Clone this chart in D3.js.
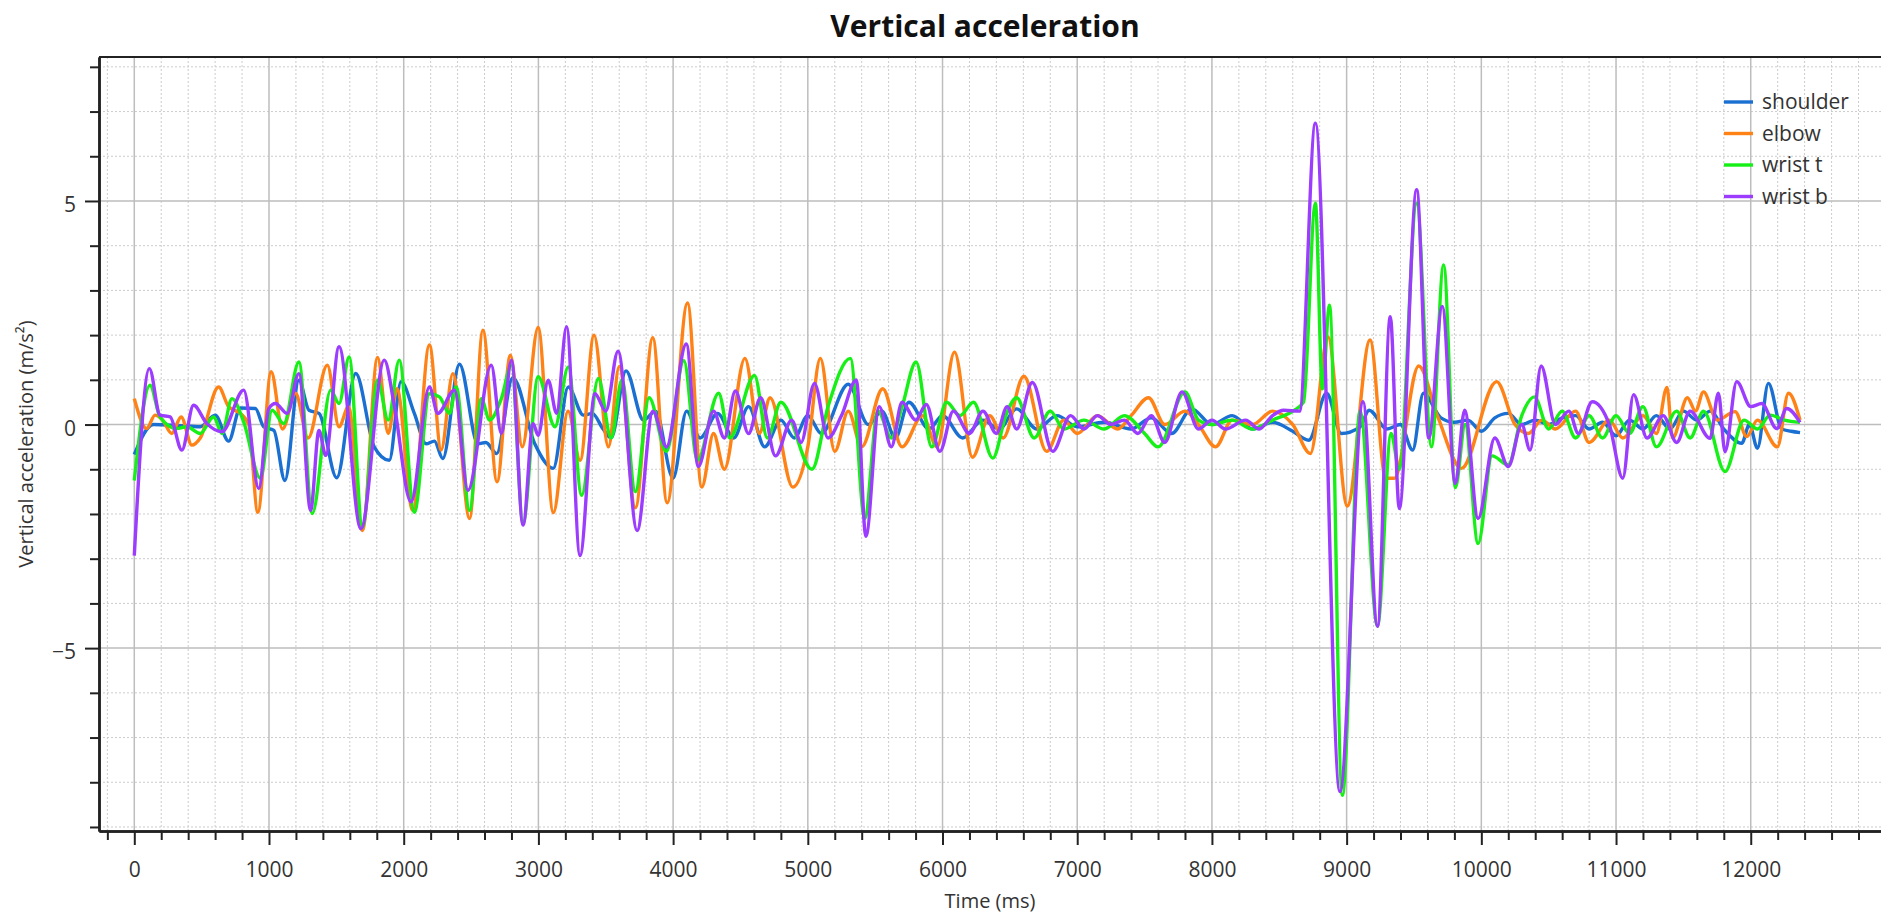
<!DOCTYPE html>
<html>
<head>
<meta charset="utf-8">
<script src="https://cdn.jsdelivr.net/npm/d3@7"></script>
<style>
  html, body { margin: 0; padding: 0; background: #fff; }
  svg { display: block; }
  text { font-family: "Open Sans", "Noto Sans", sans-serif; }
</style>
</head>
<body>
<svg id="chart" width="1881" height="915"></svg>
<script>
const chartTitle = "Vertical acceleration";
const xLabel = "Time (ms)";
const yLabel = "Vertical acceleration (m/s\u00B2)";
const seriesNames = ["shoulder", "elbow", "wrist t", "wrist b"];
const seriesColors = ["#1a6fd2", "#ff8216", "#16f016", "#9b3cff"];
const xMajorTicks = [0,1000,2000,3000,4000,5000,6000,7000,8000,9000,10000,11000,12000];
const yMajorTicks = [-5, 0, 5];

const shoulder = [[0,-0.67],[142,0.0],[315,-0.02],[489,-0.05],[601,0.21],[700,-0.37],[787,0.37],[899,0.36],[961,-0.05],[1036,-0.13],[1118,-1.25],[1222,0.99],[1297,0.32],[1371,0.25],[1503,-1.19],[1644,1.14],[1781,-0.5],[1893,-0.8],[1980,0.96],[2079,0.25],[2166,-0.43],[2228,-0.37],[2290,-0.76],[2414,1.35],[2551,-0.43],[2610,-0.4],[2690,-0.65],[2810,1.05],[2973,-0.43],[3110,-0.98],[3222,0.84],[3334,0.21],[3400,0.25],[3480,-0.1],[3540,-0.3],[3650,1.2],[3780,0.1],[3870,0.3],[4000,-1.2],[4100,0.3],[4200,-0.3],[4330,0.25],[4450,-0.3],[4560,0.4],[4680,-0.5],[4800,0.1],[4900,-0.3],[5000,0.2],[5100,-0.2],[5300,0.9],[5450,0.0],[5550,0.3],[5650,-0.3],[5750,0.5],[5900,-0.1],[6000,0.2],[6150,-0.3],[6300,0.1],[6420,-0.1],[6550,0.35],[6700,-0.1],[6850,0.2],[7000,-0.05],[7200,0.05],[7400,-0.1],[7550,0.15],[7700,-0.2],[7850,0.35],[8000,0.0],[8150,0.2],[8300,-0.1],[8450,0.05],[8600,-0.15],[8719,-0.35],[8851,0.7],[8960,-0.2],[9100,-0.05],[9167,0.32],[9300,-0.1],[9400,0.0],[9490,-0.57],[9570,0.7],[9700,0.15],[9800,0.05],[9900,0.1],[10000,-0.15],[10100,0.15],[10200,0.25],[10300,0.0],[10400,0.1],[10500,0.0],[10600,0.15],[10700,0.2],[10800,-0.1],[10900,0.05],[11000,-0.25],[11100,0.1],[11200,-0.1],[11300,0.2],[11400,-0.1],[11500,0.3],[11600,0.1],[11700,0.3],[11800,-0.1],[11933,-0.42],[11990,0.0],[12050,-0.53],[12131,0.92],[12230,-0.1],[12300,-0.15],[12366,-0.18]];

const elbow = [[0,0.58],[92,-0.09],[154,0.21],[210,0.1],[278,-0.2],[348,0.17],[427,-0.46],[490,-0.3],[626,0.84],[700,0.4],[787,0.25],[850,0.0],[917,-1.96],[1016,1.18],[1100,-0.1],[1197,0.7],[1290,-0.3],[1433,1.33],[1520,-0.05],[1590,0.4],[1694,-2.37],[1806,1.5],[1885,-0.2],[1950,0.8],[2067,-1.92],[2191,1.78],[2278,-0.57],[2365,1.14],[2489,-2.1],[2588,2.11],[2693,-1.28],[2792,1.55],[2880,-0.5],[2998,2.17],[3111,-1.97],[3220,0.3],[3310,-0.8],[3413,2.0],[3520,-0.5],[3600,1.3],[3720,-1.86],[3849,1.94],[3956,-1.75],[4107,2.72],[4213,-1.4],[4300,-0.2],[4380,-1.0],[4533,1.48],[4640,-0.2],[4720,0.6],[4889,-1.4],[5000,-0.5],[5093,1.48],[5200,-0.6],[5300,0.3],[5400,-0.5],[5556,0.8],[5700,-0.5],[5850,0.2],[5960,-0.5],[6089,1.62],[6222,-0.73],[6350,0.2],[6450,-0.3],[6604,1.08],[6773,-0.6],[6900,0.1],[7000,-0.2],[7150,0.2],[7300,-0.1],[7400,0.2],[7529,0.6],[7650,0.0],[7800,0.3],[7900,0.0],[8027,-0.5],[8150,0.1],[8300,0.0],[8450,0.3],[8600,0.0],[8731,-0.65],[8861,1.96],[9005,-1.82],[9174,1.89],[9290,-1.2],[9355,-1.2],[9535,1.31],[9677,0.17],[9852,-0.98],[10113,0.96],[10250,0.0],[10350,-0.2],[10450,0.1],[10550,-0.1],[10700,0.3],[10800,-0.4],[10950,0.1],[11050,-0.3],[11200,0.2],[11300,-0.2],[11378,0.83],[11420,-0.3],[11530,0.6],[11590,0.3],[11649,0.73],[11750,0.1],[11884,0.29],[11970,-0.27],[12050,0.1],[12198,-0.5],[12280,0.7],[12366,0.1]];

const wristT = [[0,-1.25],[117,0.88],[191,0.17],[315,-0.09],[390,-0.05],[489,-0.2],[589,0.17],[651,-0.2],[725,0.58],[812,0.06],[936,-1.2],[1023,0.32],[1110,0.02],[1222,1.4],[1321,-1.99],[1458,0.77],[1520,0.47],[1595,1.51],[1694,-2.29],[1806,0.99],[1885,0.1],[1967,1.44],[2079,-1.96],[2191,0.69],[2265,0.62],[2340,0.25],[2390,0.84],[2489,-1.92],[2576,0.58],[2638,0.1],[2725,0.58],[2800,1.33],[2886,-2.2],[2998,1.07],[3123,-0.05],[3222,1.29],[3321,-1.58],[3445,1.03],[3540,-0.3],[3620,1.0],[3720,-1.5],[3822,0.6],[3950,-0.6],[4080,1.43],[4180,-0.8],[4338,0.7],[4420,-0.3],[4604,1.1],[4700,-0.3],[4800,0.5],[5031,-1.0],[5150,0.4],[5316,1.48],[5422,-2.1],[5520,0.3],[5620,-0.3],[5700,0.4],[5804,1.4],[5920,-0.5],[6030,0.5],[6130,0.2],[6230,0.5],[6373,-0.75],[6470,0.2],[6550,0.6],[6680,-0.3],[6800,0.3],[6900,-0.1],[7050,0.1],[7200,-0.1],[7350,0.2],[7500,-0.2],[7600,-0.5],[7800,0.73],[7900,0.1],[8000,0.0],[8150,0.1],[8300,-0.1],[8450,0.1],[8600,0.3],[8680,0.5],[8768,4.95],[8820,0.8],[8873,2.67],[8968,-8.29],[9100,0.3],[9229,-4.51],[9330,-0.2],[9391,-1.0],[9520,4.95],[9630,-0.5],[9720,3.57],[9807,-1.41],[9880,0.0],[9976,-2.66],[10080,-0.7],[10200,-0.9],[10300,0.2],[10394,0.62],[10500,-0.1],[10600,0.3],[10700,-0.3],[10800,0.2],[10900,-0.3],[11000,0.2],[11100,-0.2],[11200,0.4],[11300,-0.5],[11450,0.3],[11550,-0.3],[11650,0.3],[11809,-1.05],[11950,0.1],[12050,-0.1],[12144,0.21],[12250,0.1],[12366,0.05]];

const wristB = [[0,-2.93],[112,1.25],[191,0.21],[266,0.17],[353,-0.57],[440,0.43],[539,0.02],[651,-0.16],[812,0.77],[924,-1.43],[999,0.36],[1048,0.47],[1135,0.25],[1222,1.14],[1309,-1.92],[1371,-0.13],[1421,-0.69],[1520,1.74],[1682,-2.33],[1856,1.44],[1930,0.43],[2054,-1.73],[2191,0.84],[2253,0.25],[2377,0.77],[2477,-1.47],[2650,1.33],[2725,-0.2],[2800,1.44],[2886,-2.25],[2961,0.02],[2998,-0.24],[3073,0.99],[3135,0.25],[3209,2.19],[3309,-2.93],[3420,0.69],[3500,0.3],[3591,1.64],[3733,-2.37],[3850,0.3],[3950,-0.5],[4098,1.8],[4187,-0.94],[4300,0.3],[4380,-0.3],[4462,0.75],[4560,-0.2],[4650,0.6],[4760,-0.7],[4880,0.1],[4950,-0.4],[5049,0.92],[5150,-0.3],[5250,0.2],[5360,1.0],[5431,-2.5],[5530,0.4],[5620,-0.5],[5700,0.5],[5800,0.1],[5880,0.45],[5980,-0.6],[6080,0.3],[6200,-0.2],[6300,0.3],[6400,-0.2],[6480,0.4],[6550,-0.1],[6667,0.94],[6818,-0.6],[6950,0.2],[7050,-0.1],[7150,0.2],[7250,0.0],[7350,0.1],[7450,-0.2],[7550,0.2],[7650,-0.4],[7778,0.73],[7900,-0.1],[8000,0.1],[8100,-0.1],[8250,0.1],[8350,-0.1],[8450,0.2],[8532,0.32],[8650,0.3],[8768,6.74],[8950,-8.21],[9122,0.51],[9229,-4.51],[9324,2.41],[9391,-1.88],[9520,5.25],[9610,-0.3],[9710,2.64],[9807,-1.32],[9876,0.32],[9976,-2.1],[10100,-0.3],[10200,-0.94],[10300,0.0],[10362,-0.57],[10444,1.31],[10550,0.0],[10650,0.3],[10720,-0.2],[10823,0.51],[10950,0.0],[11050,-1.2],[11130,0.67],[11230,-0.3],[11350,0.2],[11450,-0.4],[11550,0.3],[11698,-0.31],[11760,0.7],[11809,-0.61],[11896,0.96],[12000,0.4],[12082,0.47],[12193,-0.09],[12267,0.36],[12366,0.05]];

const seriesData = [shoulder, elbow, wristT, wristB];

// ---- layout ----
const W = 1881, H = 915;
const plot = { left: 99, top: 57, right: 1881, bottom: 831 };

const x = d3.scaleLinear().domain([-262, 12967]).range([plot.left, plot.right]);
const y = d3.scaleLinear().domain([-9.09, 8.22]).range([plot.bottom, plot.top]);

const xMinor = d3.range(-200, 12801, 200).filter(v => v % 1000 !== 0);
const yMinor = d3.range(-9, 9, 1).filter(v => v % 5 !== 0);

const svg = d3.select("#chart");

svg.append("defs").append("clipPath").attr("id", "clip")
  .append("rect").attr("x", plot.left).attr("y", plot.top)
  .attr("width", plot.right - plot.left).attr("height", plot.bottom - plot.top);

const grid = svg.append("g");
grid.selectAll(".vx").data(xMinor).enter().append("line")
  .attr("x1", d => x(d)).attr("x2", d => x(d))
  .attr("y1", plot.top).attr("y2", plot.bottom)
  .attr("stroke", "#cccccc").attr("stroke-width", 1).attr("stroke-dasharray", "2,2");
grid.selectAll(".hy").data(yMinor).enter().append("line")
  .attr("y1", d => y(d)).attr("y2", d => y(d))
  .attr("x1", plot.left).attr("x2", plot.right)
  .attr("stroke", "#cccccc").attr("stroke-width", 1).attr("stroke-dasharray", "2,2");
grid.selectAll(".vX").data(xMajorTicks).enter().append("line")
  .attr("x1", d => x(d)).attr("x2", d => x(d))
  .attr("y1", plot.top).attr("y2", plot.bottom)
  .attr("stroke", "#bdbdbd").attr("stroke-width", 1.5);
grid.selectAll(".hY").data(yMajorTicks).enter().append("line")
  .attr("y1", d => y(d)).attr("y2", d => y(d))
  .attr("x1", plot.left).attr("x2", plot.right)
  .attr("stroke", "#bdbdbd").attr("stroke-width", 1.5);

const line = d3.line().x(d => x(d[0])).y(d => y(d[1])).curve(d3.curveMonotoneX);
const lines = svg.append("g").attr("clip-path", "url(#clip)");
seriesData.forEach((data, i) => {
  lines.append("path").datum(data)
    .attr("fill", "none")
    .attr("stroke", seriesColors[i])
    .attr("stroke-width", 3.4)
    .attr("stroke-linejoin", "round")
    .attr("d", line);
});

const axisColor = "#222";
const xAxisMinor = d3.axisBottom(x).tickValues(xMinor).tickSize(9).tickFormat("").tickSizeOuter(0);
const xAxis = d3.axisBottom(x).tickValues(xMajorTicks).tickSize(14).tickPadding(17).tickSizeOuter(0).tickFormat(d3.format("d"));
const yAxisMinor = d3.axisLeft(y).tickValues(yMinor).tickSize(9).tickFormat("").tickSizeOuter(0);
const yAxis = d3.axisLeft(y).tickValues(yMajorTicks).tickSize(14).tickPadding(9).tickSizeOuter(0).tickFormat(d3.format("d"));

function styleAxis(g) {
  g.selectAll(".domain").attr("stroke", axisColor).attr("stroke-width", 2.5);
  g.selectAll(".tick line").attr("stroke", axisColor).attr("stroke-width", 2);
  g.selectAll(".tick text").attr("fill", "#333").style("font-size", "21px")
    .style("font-family", '"Open Sans", "Noto Sans", sans-serif');
}
const gxm = svg.append("g").attr("transform", `translate(0,${plot.bottom})`).call(xAxisMinor); styleAxis(gxm);
const gx = svg.append("g").attr("transform", `translate(0,${plot.bottom})`).call(xAxis); styleAxis(gx);
const gym = svg.append("g").attr("transform", `translate(${plot.left},0)`).call(yAxisMinor); styleAxis(gym);
const gy = svg.append("g").attr("transform", `translate(${plot.left},0)`).call(yAxis); styleAxis(gy);
gy.selectAll(".tick text").attr("dy", "0.5em");

svg.append("line").attr("x1", plot.left).attr("x2", plot.right)
  .attr("y1", plot.top).attr("y2", plot.top)
  .attr("stroke", axisColor).attr("stroke-width", 2);

svg.append("text").attr("x", 985).attr("y", 37).attr("text-anchor", "middle")
  .style("font-size", "30px").style("font-weight", "bold").attr("fill", "#111")
  .text(chartTitle);

svg.append("text").attr("x", 990).attr("y", 908).attr("text-anchor", "middle")
  .style("font-size", "20px").attr("fill", "#333").text(xLabel);
svg.append("text").attr("transform", "translate(33,444) rotate(-90)")
  .attr("text-anchor", "middle").style("font-size", "20px").attr("fill", "#333").text(yLabel);

const legend = svg.append("g").attr("transform", "translate(1724,102)");
seriesNames.forEach((name, i) => {
  const g = legend.append("g").attr("transform", `translate(0,${i * 31.5})`);
  g.append("line").attr("x1", 0).attr("x2", 29).attr("y1", 0).attr("y2", 0)
    .attr("stroke", seriesColors[i]).attr("stroke-width", 3.4);
  g.append("text").attr("x", 38).attr("y", 0).attr("dy", "0.35em")
    .style("font-size", "21px").attr("fill", "#333").text(name);
});
</script>
</body>
</html>
